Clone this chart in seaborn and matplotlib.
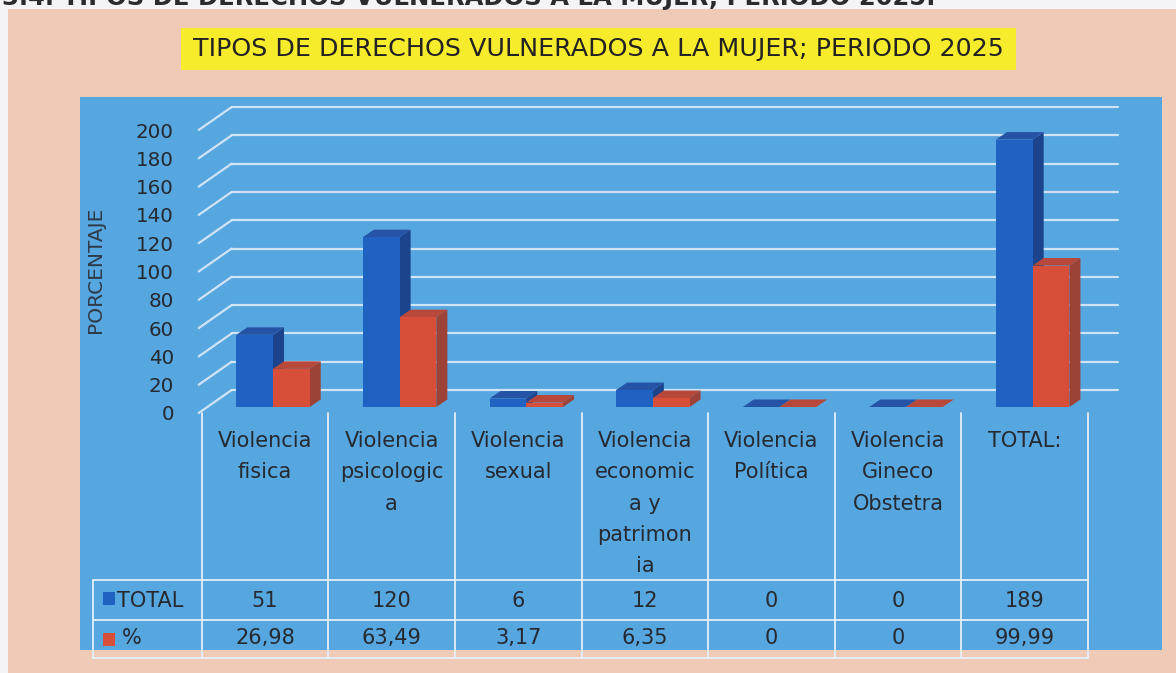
import numpy as np
import pandas as pd
import matplotlib
matplotlib.use('Agg')
import matplotlib.pyplot as plt
import matplotlib.transforms as mtransforms
from matplotlib.patches import Rectangle, Polygon
from matplotlib.lines import Line2D
import seaborn as sns

# datos del grafico
categorias = ['Violencia fisica', 'Violencia psicologica', 'Violencia sexual',
              'Violencia economica y patrimonial', 'Violencia Política',
              'Violencia Gineco Obstetra', 'TOTAL:']
etiquetas = ['Violencia\nfisica', 'Violencia\npsicologic\na', 'Violencia\nsexual',
             'Violencia\neconomic\na y\npatrimon\nia', 'Violencia\nPolítica',
             'Violencia\nGineco\nObstetra', 'TOTAL:']
series = ['TOTAL', '%']
total = [51, 120, 6, 12, 0, 0, 189]
porcentaje = [26.98, 63.49, 3.17, 6.35, 0, 0, 99.99]
yticks = list(range(0, 201, 20))

titulo = 'TIPOS DE DERECHOS VULNERADOS A LA MUJER; PERIODO 2025'
encabezado = '3.4. TIPOS DE DERECHOS VULNERADOS A LA MUJER, PERIODO 2025.'

# colores
PEACH = '#eecab7'
BG_BLUE = '#56a6e0'
YELLOW = '#f7ec2c'
FRONT = ['#1f62c2', '#d84f39']
SIDE = ['#1c448c', '#9c4236']
TOP = ['#2554a6', '#b8483a']
TXT = '#26292f'
LINE = '#e4eff9'

W, H = 1176, 673


def fx(x):
    return x / W


def fy(y):
    return 1 - y / H


def fmt(v):
    if v == int(v):
        return str(int(v))
    return f'{v:.2f}'.replace('.', ',')


sns.set_theme(style='white')
plt.rcParams['font.family'] = ['DejaVu Sans']

fig = plt.figure(figsize=(W / 100, H / 100), dpi=100)
fig.patch.set_facecolor('#f4f4f8')

# fondos
fig.add_artist(Rectangle((fx(8), 0), 1, fy(9), transform=fig.transFigure,
                         facecolor=PEACH, edgecolor='none', zorder=-3))
fig.add_artist(Rectangle((fx(80), fy(650)), fx(1162) - fx(80), fy(97) - fy(650),
                         transform=fig.transFigure, facecolor=BG_BLUE,
                         edgecolor='none', zorder=-2))
fig.add_artist(Rectangle((fx(181), fy(70)), fx(1016) - fx(181), fy(28) - fy(70),
                         transform=fig.transFigure, facecolor=YELLOW,
                         edgecolor='none', zorder=-2))

# encabezado cortado arriba (como en el original escaneado)
fig.text(fx(2), fy(5), encabezado, ha='left', va='baseline', fontsize=17.5,
         fontweight='bold', color='#2a2a30')
fig.text(fx(598), fy(49), titulo, ha='center', va='center', fontsize=18.3,
         color='#222222')

# eje principal
ax_l, ax_r, ax_t, ax_b = 201.7, 1088, 130, 413
ax = fig.add_axes([fx(ax_l), fy(ax_b), fx(ax_r) - fx(ax_l), fy(ax_t) - fy(ax_b)])
ax.set_facecolor('none')
ax.set_zorder(1)

df = pd.DataFrame({
    'categoria': categorias * 2,
    'valor': total + porcentaje,
    'serie': [series[0]] * len(total) + [series[1]] * len(porcentaje),
})
sns.barplot(data=df, x='categoria', y='valor', hue='serie', palette=FRONT,
            width=0.58, saturation=1, errorbar=None, legend=False,
            linewidth=0, ax=ax)

ax.set_xlim(-0.5, len(categorias) - 0.5)
ax.set_ylim(0, 200)
ux = (ax_r - ax_l) / len(categorias)   # px por categoria
uy = (ax_b - ax_t) / 200               # px por unidad

# efecto 3D
shift_x, shift_y = 8 / ux, 6 / uy
dx, dy = 11 / ux, 7.5 / uy
for p in list(ax.patches):
    fc = p.get_facecolor()
    k = 0 if np.allclose(fc[:3], matplotlib.colors.to_rgb(FRONT[0]), atol=0.02) else 1
    x0 = p.get_x() + shift_x
    w = p.get_width()
    h = p.get_height()
    y0 = shift_y
    x1 = x0 + w
    p.set_x(x0)
    p.set_y(y0)
    p.set_clip_on(False)
    p.set_zorder(4 + 2 * k)
    side = Polygon([(x1, y0), (x1 + dx, y0 + dy), (x1 + dx, y0 + h + dy), (x1, y0 + h)],
                   closed=True, facecolor=SIDE[k], edgecolor='none',
                   zorder=3 + 2 * k, clip_on=False)
    top = Polygon([(x0, y0 + h), (x1, y0 + h), (x1 + dx, y0 + h + dy), (x0 + dx, y0 + h + dy)],
                  closed=True, facecolor=TOP[k], edgecolor='none',
                  zorder=3 + 2 * k, clip_on=False)
    ax.add_patch(side)
    ax.add_patch(top)

# rejilla en pared de fondo y pared lateral
bx, by = 30 / ux, 23 / uy
for v in yticks:
    ax.plot([-0.5 + bx, len(categorias) - 0.5 + bx], [v + by, v + by],
            color=LINE, lw=1.6, zorder=1, clip_on=False, alpha=0.85)
    ax.plot([-0.5 - 3 / ux, -0.5 + bx], [v, v + by],
            color=LINE, lw=1.6, zorder=1, clip_on=False, alpha=0.85)

for s in ax.spines.values():
    s.set_visible(False)
ax.set_xlabel('')
ax.set_ylabel('')
ax.set_yticks(yticks)
ax.set_yticklabels([str(t) for t in yticks], fontsize=14.3, color=TXT)
ax.tick_params(axis='y', length=0, pad=20)
ax.tick_params(axis='x', length=0, labelbottom=False)

fig.text(fx(96), fy(270), 'PORCENTAJE', rotation=90, ha='center', va='center',
         fontsize=14.5, color='#2f3a48')

# tabla de datos
trans = mtransforms.blended_transform_factory(ax.transData, fig.transFigure)
for i, lab in enumerate(etiquetas):
    ax.text(i, fy(431), lab, transform=trans, ha='center', va='top',
            fontsize=15, color=TXT, linespacing=1.71, clip_on=False)
    ax.text(i, fy(601), fmt(total[i]), transform=trans, ha='center',
            va='center', fontsize=15, color=TXT, clip_on=False)
    ax.text(i, fy(638), fmt(porcentaje[i]), transform=trans, ha='center',
            va='center', fontsize=15, color=TXT, clip_on=False)

for xv in np.arange(-0.5, len(categorias), 1.0):
    ax.plot([xv, xv], [fy(413), fy(658)], transform=trans, color=LINE,
            lw=1.3, clip_on=False, zorder=2)
for yv in [580, 620, 658]:
    fig.add_artist(Line2D([fx(93), fx(ax_r)], [fy(yv), fy(yv)], color=LINE,
                          lw=1.3, transform=fig.transFigure))
fig.add_artist(Line2D([fx(93), fx(93)], [fy(580), fy(658)], color=LINE,
                      lw=1.3, transform=fig.transFigure))

fig.add_artist(Rectangle((fx(103), fy(605)), fx(12), fy(592) - fy(605),
                         transform=fig.transFigure, facecolor=FRONT[0],
                         edgecolor='none'))
fig.add_artist(Rectangle((fx(103), fy(646)), fx(12), fy(633) - fy(646),
                         transform=fig.transFigure, facecolor=FRONT[1],
                         edgecolor='none'))
fig.text(fx(117), fy(601), series[0], ha='left', va='center', fontsize=15, color=TXT)
fig.text(fx(122), fy(638), series[1], ha='left', va='center', fontsize=15, color=TXT)

fig.savefig('out.png', dpi=100, facecolor=fig.get_facecolor())
